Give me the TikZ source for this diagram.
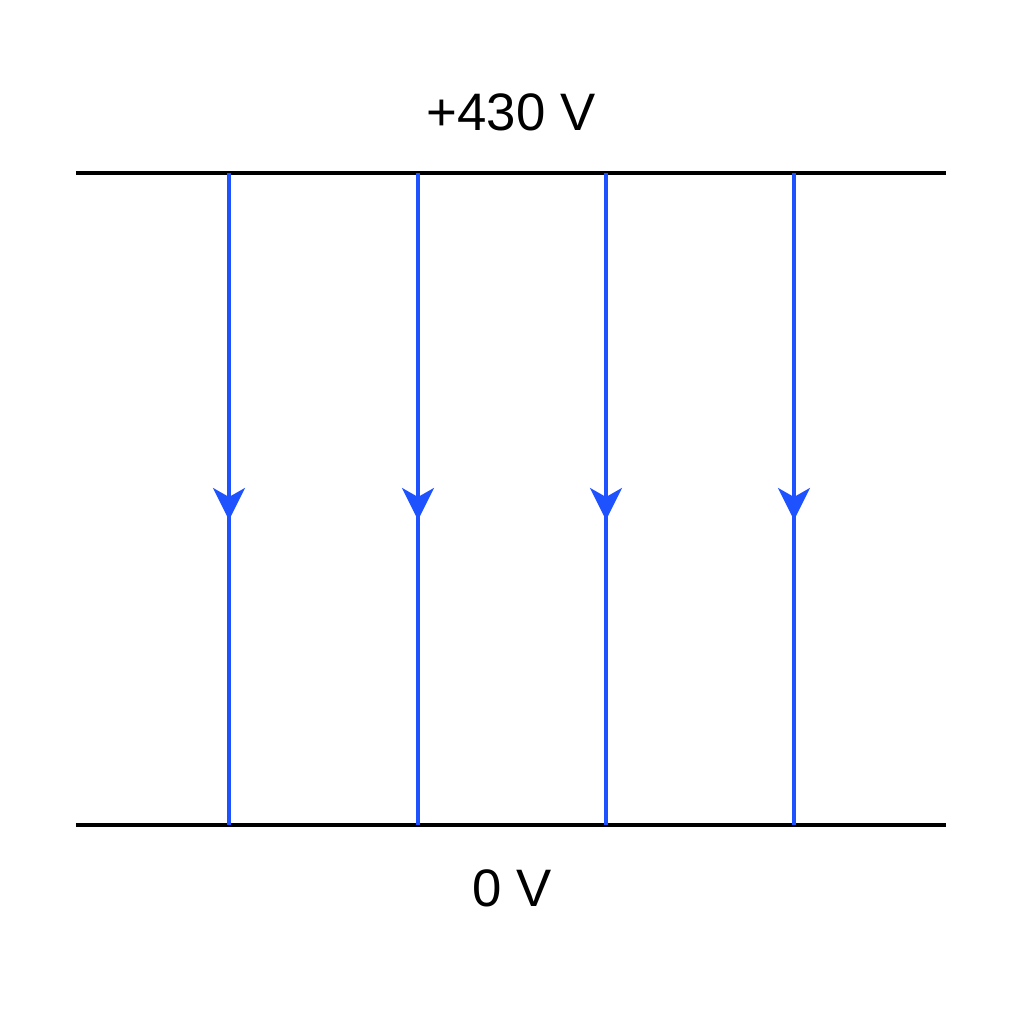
\documentclass[tikz,border=0pt]{standalone}
\usepackage{fontspec}
\setmainfont{Liberation Sans}
\usetikzlibrary{arrows.meta}

\definecolor{fieldblue}{RGB}{30,82,255}

\tikzset{
  plate/.style={line width=1.4pt, black},
  fieldline/.style={line width=1pt, fieldblue},
  fieldarrow/.style={fieldline, -{Stealth[length=3.2mm, width=3.2mm, inset=0.9mm]}},
  label/.style={font=\fontsize{15}{18}\selectfont, anchor=base}
}

\begin{document}
\begin{tikzpicture}[x=1cm, y=1cm]

\useasboundingbox (0,0) rectangle (10.24,10.24);

% plates
\coordinate (topL) at (0.76,8.51);
\coordinate (topR) at (9.46,8.51);
\coordinate (botL) at (0.76,1.99);
\coordinate (botR) at (9.46,1.99);
\draw [plate] (topL) -- (topR);
\draw [plate] (botL) -- (botR);

\node [label] (vtop) at (5.11,8.93) {+430 V};
\node [label] (vbot) at (5.12,1.17) {0 V};

% field lines
\foreach \x [count=\i] in {2.29,4.18,6.06,7.94} {
  \coordinate (a\i) at (\x,8.51);
  \coordinate (m\i) at (\x,5.04);
  \coordinate (b\i) at (\x,1.99);
  \draw [fieldline] (a\i) -- (b\i);
  \draw [fieldarrow] (a\i) -- (m\i);
}

\end{tikzpicture}
\end{document}
